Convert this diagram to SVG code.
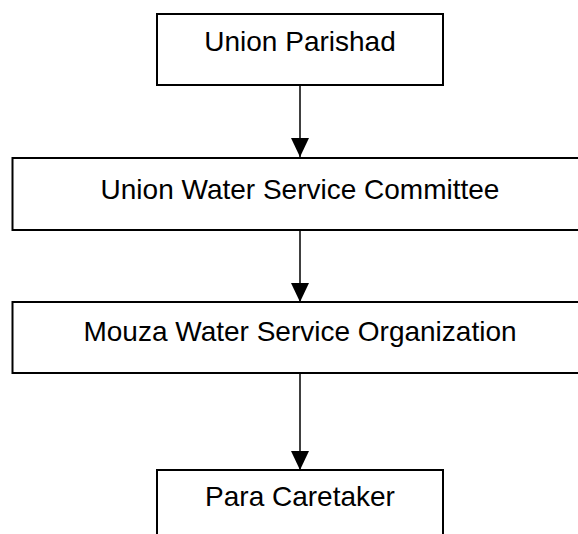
<svg xmlns="http://www.w3.org/2000/svg" width="578" height="534" viewBox="0 0 578 534">
  <style>
    .box { fill: #ffffff; stroke: #000000; stroke-width: 2; }
    .label { font-family: "Liberation Sans", Arial, sans-serif; font-size: 28px; fill: #000000; text-anchor: middle; }
    .link { stroke: #000000; stroke-width: 1.5; fill: none; marker-end: url(#arrow); }
  </style>
  <defs>
    <!-- solid triangular arrowhead, tip placed on the end of the line -->
    <marker id="arrow" viewBox="0 0 19 18" refX="19" refY="9" markerWidth="19" markerHeight="18" markerUnits="userSpaceOnUse" orient="auto">
      <path d="M0,0 L19,9 L0,18 Z" fill="#000000"/>
    </marker>
  </defs>
  <rect width="578" height="534" fill="#ffffff"/>

  <g id="connectors">
    <line class="link" x1="300" y1="85" x2="300" y2="157"/>
    <line class="link" x1="300" y1="230" x2="300" y2="302"/>
    <line class="link" x1="300" y1="373" x2="300" y2="470"/>
  </g>

  <g id="union-parishad">
    <rect class="box" x="157" y="14" width="286" height="71"/>
    <text class="label" x="300" y="51">Union Parishad</text>
  </g>

  <g id="union-water-service-committee">
    <rect class="box" x="12.5" y="158" width="575" height="72"/>
    <text class="label" x="300" y="199">Union Water Service Committee</text>
  </g>

  <g id="mouza-water-service-organization">
    <rect class="box" x="12.5" y="302" width="575" height="71"/>
    <text class="label" x="300" y="341">Mouza Water Service Organization</text>
  </g>

  <g id="para-caretaker">
    <rect class="box" x="157" y="470" width="286" height="80"/>
    <text class="label" x="300" y="506">Para Caretaker</text>
  </g>
</svg>
